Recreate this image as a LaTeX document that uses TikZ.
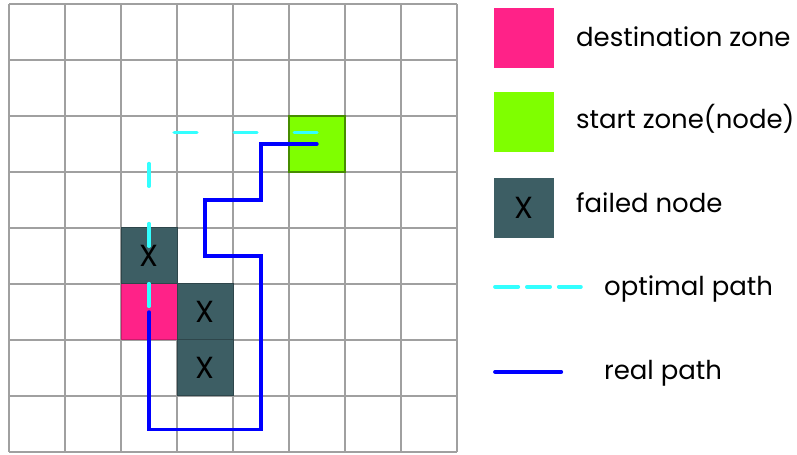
\documentclass[tikz,border=0pt]{standalone}
\usepackage{fontspec}
\setmainfont{Poppins}
\usepackage{xcolor}
\usepackage{tikz}
\usetikzlibrary{positioning}

\definecolor{gridgray}{RGB}{160,160,160}
\definecolor{destpink}{RGB}{255,34,136}
\definecolor{startgreen}{RGB}{127,255,0}
\definecolor{failslate}{RGB}{61,94,100}
\definecolor{optcyan}{RGB}{51,255,255}
\definecolor{realblue}{RGB}{0,0,255}

\begin{document}
\begin{tikzpicture}[x=1cm, y=1cm,
    gridline/.style={draw=gridgray, line width=1pt},
    cell/.style={rectangle, minimum size=1cm, inner sep=0pt, font=\fontsize{15.5}{17}\selectfont},
    destcell/.style={cell, fill=destpink, draw=destpink!80!black, line width=0.5pt},
    startcell/.style={cell, fill=startgreen, draw=startgreen!55!black, line width=0.8pt},
    failcell/.style={cell, fill=failslate, draw=failslate!75!black, line width=0.5pt},
    legbox/.style={rectangle, minimum size=1.07cm, inner sep=0pt, font=\fontsize{15.5}{17}\selectfont},
    legtext/.style={anchor=base west, inner sep=0pt, font=\fontsize{13.2}{15}\selectfont},
    optpath/.style={draw=optcyan, line width=1.7pt, line cap=round, dash pattern=on 11.6pt off 18.9pt},
    realpath/.style={draw=realblue, line width=1.7pt, line cap=round}]

    \useasboundingbox (-0.161,-0.054) rectangle (14.071,8.071);

    % Grid
    \draw[gridline] (0,0) grid (8,8);

    % Zones
    \node[destcell] (dest) at (2.5,2.5) {};
    \node[failcell] (fail1) at (2.5,3.5) {X};
    \node[failcell] (fail2) at (3.5,2.5) {X};
    \node[failcell] (fail3) at (3.5,1.5) {X};
    \node[startcell] (start) at (5.5,5.5) {};

    % Optimal path
    \coordinate (bend) at (2.5,5.7);
    \draw[optpath] ([yshift=0.2cm]start.center) -- (bend);
    \draw[optpath] ([yshift=0.1cm]dest.center) -- (bend);

    % Real path
    \draw[realpath] (start.center) -- ++(-1,0) -- ++(0,-1) -- ++(-1,0) -- ++(0,-1) -- ++(1,0)
        |- ([yshift=-2.1cm]dest.center) -- (dest.center);

    % Legend
    \node[legbox, fill=destpink] (legdest) at (9.2,7.39) {};
    \node[legbox, fill=startgreen, below=0.41cm of legdest] (legstart) {};
    \node[legbox, fill=failslate, below=0.46cm of legstart] (legfail) {X};

    \node[legtext] (legdesttext) at (10.12,7.24) {destination zone};
    \node[legtext] (legstarttext) at (10.12,5.78) {start zone(node)};
    \node[legtext] (legfailtext) at (10.12,4.27) {failed node};

    \coordinate (optA) at (8.68,2.95);
    \coordinate (optB) at (10.21,2.95);
    \draw[optpath, line width=2pt, dash pattern=on 11.7pt off 4.5pt] (optA) -- (optB);
    \node[legtext] (legopttext) at (10.62,2.80) {optimal path};

    \coordinate (realA) at (8.68,1.43);
    \coordinate (realB) at (9.86,1.43);
    \draw[realpath, line width=2pt] (realA) -- (realB);
    \node[legtext] (legrealtext) at (10.62,1.29) {real path};

\end{tikzpicture}
\end{document}
